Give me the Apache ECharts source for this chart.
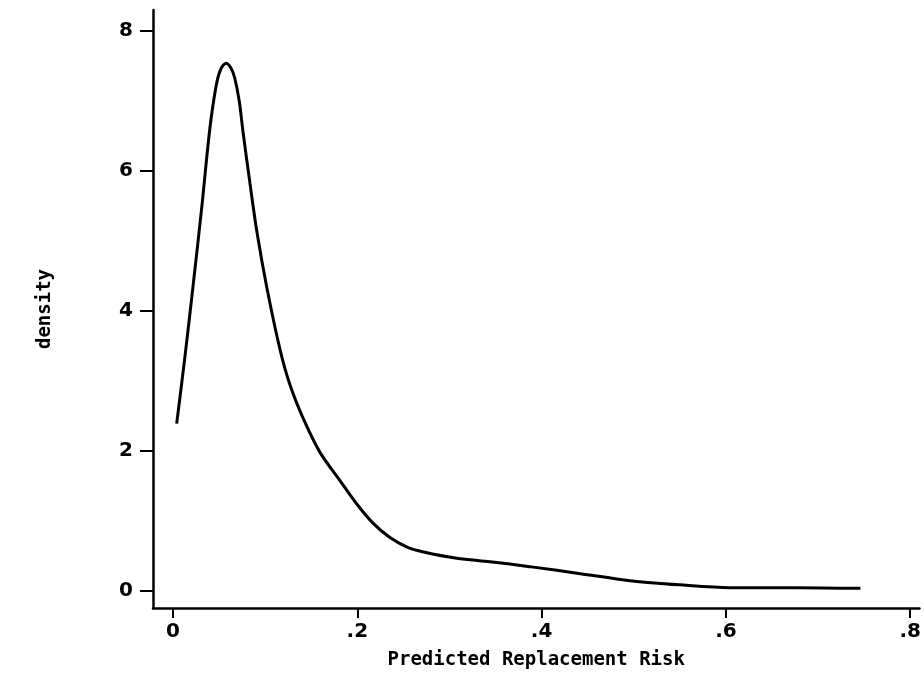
<!DOCTYPE html>
<html>
<head>
    <meta charset="utf-8">
    <script src="https://cdn.jsdelivr.net/npm/echarts@6/dist/echarts.min.js"></script>
    <style>
        html, body { margin: 0; padding: 0; background: #fff; }
    </style>
</head>
<body>
<div id="main" style="width: 924px;height:675px"></div>

<script type="text/javascript">
    // density curve
    var riskX = [0.004, 0.013, 0.022, 0.031, 0.040, 0.047, 0.052, 0.0575, 0.063, 0.067,
                 0.072, 0.076, 0.0835, 0.091, 0.1017, 0.1161, 0.127, 0.1414, 0.1595, 0.181,
                 0.199, 0.217, 0.235, 0.254, 0.272, 0.308, 0.344, 0.387, 0.442, 0.496,
                 0.550, 0.604, 0.677, 0.746];
    var densityY = [2.39, 3.35, 4.38, 5.45, 6.60, 7.22, 7.45, 7.53, 7.46, 7.32,
                    6.98, 6.55, 5.82, 5.13, 4.34, 3.45, 2.94, 2.46, 1.98, 1.58,
                    1.25, 0.97, 0.77, 0.63, 0.56, 0.47, 0.42, 0.35, 0.25, 0.15,
                    0.09, 0.05, 0.05, 0.04];
    var xTicks = [0, 0.2, 0.4, 0.6, 0.8];
    var yTicks = [0, 2, 4, 6, 8];

    var chartDom = document.getElementById('main');
    var myChart = echarts.init(chartDom);
    var option;

    var pts = riskX.map(function (x, i) { return [x, densityY[i]]; });
    var font = 'DejaVu Sans Mono';

    option = {
        backgroundColor: '#fff',
        animation: false,
        grid: { left: 153, top: 10, right: 4, bottom: 67 },
        xAxis: {
            type: 'value',
            min: -0.0217,
            max: 0.81,
            name: 'Predicted Replacement Risk',
            nameLocation: 'middle',
            nameGap: 43,
            nameTextStyle: { color: '#000', fontFamily: font, fontSize: 19, fontWeight: 'bold' },
            axisLine: { onZero: false, lineStyle: { color: '#000', width: 2.5 } },
            axisTick: { customValues: xTicks, length: 10, lineStyle: { color: '#000', width: 2 } },
            axisLabel: {
                customValues: xTicks,
                color: '#000', fontFamily: 'DejaVu Sans', fontSize: 20, fontWeight: 'bold', margin: 14,
                formatter: function (v) { return v === 0 ? '0' : String(v).replace(/^0/, ''); }
            },
            splitLine: { show: false }
        },
        yAxis: {
            type: 'value',
            min: -0.24,
            max: 8.29,
            name: 'density',
            nameLocation: 'middle',
            nameGap: 98,
            nameTextStyle: { color: '#000', fontFamily: font, fontSize: 19, fontWeight: 'bold' },
            axisLine: { show: true, onZero: false, lineStyle: { color: '#000', width: 2.5 } },
            axisTick: { show: true, customValues: yTicks, length: 13, lineStyle: { color: '#000', width: 2 } },
            axisLabel: {
                customValues: yTicks,
                color: '#000', fontFamily: 'DejaVu Sans', fontSize: 20, fontWeight: 'bold', margin: 20
            },
            splitLine: { show: false }
        },
        series: [
            {
                type: 'line',
                data: pts,
                smooth: 0.3,
                showSymbol: false,
                lineStyle: { color: '#000', width: 3 }
            }
        ]
    };

    option && myChart.setOption(option);
</script>
</body>
</html>
